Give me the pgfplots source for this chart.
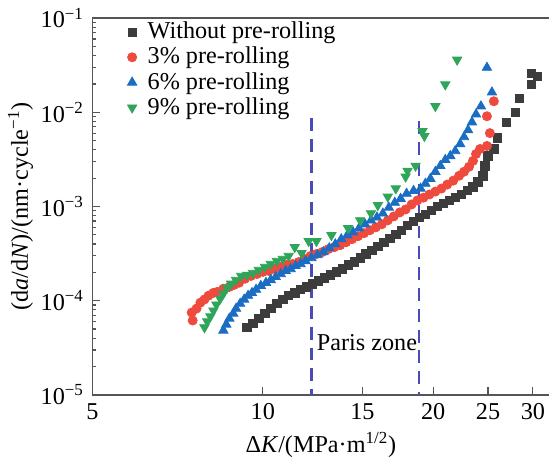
\documentclass[border=0pt,11pt]{standalone}
\usepackage{fontspec}
\setmainfont{Liberation Serif}
\usepackage{pgfplots}
\pgfplotsset{compat=1.18}

\definecolor{cblack}{HTML}{3C3C3C}
\definecolor{cred}{HTML}{EE4B3E}
\definecolor{cblue}{HTML}{1A6DC2}
\definecolor{cgreen}{HTML}{2FA55A}
\definecolor{cdash}{HTML}{4A4AB8}
\definecolor{caxis}{HTML}{555555}

\begin{document}
\fontsize{12.2}{14.5}\selectfont
\begin{tikzpicture}
\begin{axis}[
    scale only axis,
    width=230.5pt, height=190pt,
    xmode=log, ymode=log,
    xmin=5, xmax=32.1,
    ymin=1e-5, ymax=1e-1,
    axis x line=box, axis y line=left,
    axis line style={-, caxis, line width=0.75pt},
    xtick pos=left,
    xtick={5,10,15,20,25,30},
    xticklabels={5,10,15,20,25,30},
    xminorticks=false,
    ytick={1e-5,1e-4,1e-3,1e-2,1e-1},
    yticklabels={10\textsuperscript{−5},10\textsuperscript{−4},10\textsuperscript{−3},10\textsuperscript{−2},10\textsuperscript{−1}},
    tick style={caxis, line width=0.6pt},
    major tick length=3.8pt,
    minor tick length=2pt,
    tick align=inside,
    xlabel={Δ\textit{K}/(MPa·m\textsuperscript{1/2})},
    ylabel={(d\textit{a}/d\textit{N})/(nm·cycle\textsuperscript{−1})},
    ylabel shift=-4.5pt,
    xlabel shift=-2pt,
    legend cell align=left,
    legend style={draw=none, fill=none, at={(0.063,1.012)}, anchor=north west,
        row sep=-1.6pt, column sep=3.5pt, font=\fontsize{12.2}{13}\selectfont},
]
\addplot[only marks, mark=square*, mark size=2.1pt, color=cblack] coordinates {
(9.38,5.20e-5) (9.61,5.73e-5) (9.84,6.47e-5) (10.09,7.30e-5) (10.33,8.24e-5)
(10.59,9.30e-5) (10.85,1.03e-4) (11.11,1.13e-4) (11.39,1.21e-4) (11.66,1.31e-4)
(11.94,1.40e-4) (12.24,1.51e-4) (12.54,1.62e-4) (12.85,1.75e-4) (13.16,1.88e-4)
(13.49,2.02e-4) (13.82,2.17e-4) (14.15,2.39e-4) (14.50,2.57e-4) (14.86,2.84e-4)
(15.22,3.13e-4) (15.59,3.44e-4) (15.97,3.79e-4) (16.37,4.18e-4) (16.77,4.61e-4)
(17.18,5.07e-4) (17.60,5.59e-4) (18.02,6.31e-4) (18.47,6.95e-4) (18.92,7.66e-4)
(19.38,8.24e-4) (19.86,9.08e-4) (20.35,1.00e-3) (20.85,1.08e-3) (21.36,1.16e-3)
(21.88,1.24e-3) (22.41,1.34e-3) (22.96,1.47e-3) (23.52,1.62e-3) (24.0,1.83e-3)
(24.49,2.12e-3) (24.69,2.70e-3) (24.98,3.44e-3) (25.6,4.08e-3) (26.0,5.33e-3)
(26.97,7.85e-3) (27.97,1.0e-2) (28.4,1.40e-2) (29.85,1.97e-2) (29.85,2.57e-2)
(30.56,2.39e-2)
};
\addlegendentry{Without pre-rolling}
\addplot[only marks, mark=*, mark size=2.3pt, color=cred] coordinates {
(7.49,7.48e-5) (7.52,6.16e-5) (7.64,8.24e-5) (7.76,9.53e-5) (7.89,1.03e-4)
(8.02,1.13e-4) (8.18,1.21e-4) (8.31,1.24e-4) (8.52,1.34e-4) (8.73,1.40e-4)
(8.90,1.47e-4) (9.08,1.55e-4) (9.30,1.71e-4) (9.53,1.83e-4) (9.77,1.92e-4)
(10.01,2.02e-4) (10.25,2.07e-4) (10.50,2.17e-4) (10.76,2.28e-4) (11.02,2.39e-4)
(11.29,2.45e-4) (11.57,2.57e-4) (11.85,2.77e-4) (12.14,2.98e-4) (12.44,3.13e-4)
(12.74,3.28e-4) (13.06,3.53e-4) (13.38,3.70e-4) (13.70,3.88e-4) (14.04,4.18e-4)
(14.38,4.50e-4) (14.73,4.83e-4) (15.09,5.20e-4) (15.46,5.59e-4) (15.84,6.01e-4)
(16.23,6.47e-4) (16.63,7.12e-4) (17.04,7.85e-4) (17.46,8.65e-4) (17.88,9.30e-4)
(18.32,1.05e-3) (18.76,1.16e-3) (19.23,1.24e-3) (19.70,1.34e-3) (20.18,1.44e-3)
(20.68,1.55e-3) (21.18,1.71e-3) (21.70,1.88e-3) (22.23,2.12e-3) (22.68,2.34e-3)
(23.14,2.64e-3) (23.52,3.05e-3) (23.81,3.61e-3) (24.20,4.08e-3) (24.89,4.39e-3)
(25.19,6.01e-3) (24.89,9.08e-3) (25.6,1.31e-2)
};
\addlegendentry{3\% pre-rolling}
\addplot[only marks, mark=triangle*, mark size=2.7pt, color=cblue] coordinates {
(8.52,4.83e-5) (8.62,5.59e-5) (8.73,6.47e-5) (8.87,7.30e-5) (8.97,8.24e-5)
(9.12,9.30e-5) (9.27,1.03e-4) (9.42,1.13e-4) (9.57,1.21e-4) (9.73,1.31e-4)
(9.92,1.44e-4) (10.13,1.55e-4) (10.33,1.66e-4) (10.54,1.79e-4) (10.76,1.92e-4)
(10.98,2.07e-4) (11.20,2.17e-4) (11.43,2.34e-4) (11.66,2.45e-4) (11.90,2.64e-4)
(12.19,2.84e-4) (12.49,3.05e-4) (12.80,3.28e-4) (13.11,3.61e-4) (13.43,3.98e-4)
(13.76,4.50e-4) (14.10,4.95e-4) (14.44,5.33e-4) (14.79,5.87e-4) (15.16,6.47e-4)
(15.53,7.12e-4) (15.91,7.66e-4) (16.30,8.44e-4) (16.70,9.76e-4) (17.11,1.10e-3)
(17.52,1.21e-3) (17.95,1.37e-3) (18.47,1.47e-3) (19.00,1.55e-3) (19.38,1.75e-3)
(19.78,1.97e-3) (20.18,2.34e-3) (20.59,2.70e-3) (21.01,3.13e-3) (21.44,3.44e-3)
(21.88,3.88e-3) (22.32,4.61e-3) (22.68,5.46e-3) (23.05,6.47e-3) (23.42,7.85e-3)
(23.81,9.53e-3) (24.29,1.16e-2) (25.40,1.63e-2) (24.89,2.98e-2)
};
\addlegendentry{6\% pre-rolling}
\addplot[only marks, mark=triangle*, mark options={rotate=180}, mark size=2.7pt, color=cgreen] coordinates {
(7.89,5.20e-5) (7.98,6.01e-5) (8.08,6.79e-5) (8.18,7.85e-5) (8.28,9.08e-5)
(8.41,1.05e-4) (8.52,1.19e-4) (8.65,1.37e-4) (8.79,1.51e-4) (8.97,1.66e-4)
(9.16,1.83e-4) (9.38,1.88e-4) (9.61,1.97e-4) (9.84,2.12e-4) (10.09,2.28e-4)
(10.33,2.45e-4) (10.59,2.64e-4) (10.85,2.77e-4) (11.11,2.98e-4) (11.39,3.70e-4)
(11.71,3.20e-4) (12.05,4.28e-4) (12.44,4.28e-4) (13.22,4.95e-4) (14.15,5.87e-4)
(14.86,7.12e-4) (15.53,8.44e-4) (15.97,1.03e-3) (16.63,1.27e-3) (17.18,1.55e-3)
(17.88,2.07e-3) (18.02,2.39e-3) (18.62,2.70e-3) (19.15,6.31e-3) (19.30,5.59e-3)
(20.18,1.16e-2) (21.01,1.97e-2) (22.05,3.61e-2)
};
\addlegendentry{9\% pre-rolling}
\addplot[cdash, line width=1.2pt, dash pattern=on 6.5pt off 4pt, forget plot] coordinates {(12.2,8.6e-3) (12.2,1e-5)};
\addplot[cdash, line width=1.2pt, dash pattern=on 6.5pt off 4pt, forget plot] coordinates {(18.9,8.0e-3) (18.9,1e-5)};
\node at (axis cs:15.28,3.61e-5) {Paris zone};
\end{axis}
\end{tikzpicture}
\end{document}
